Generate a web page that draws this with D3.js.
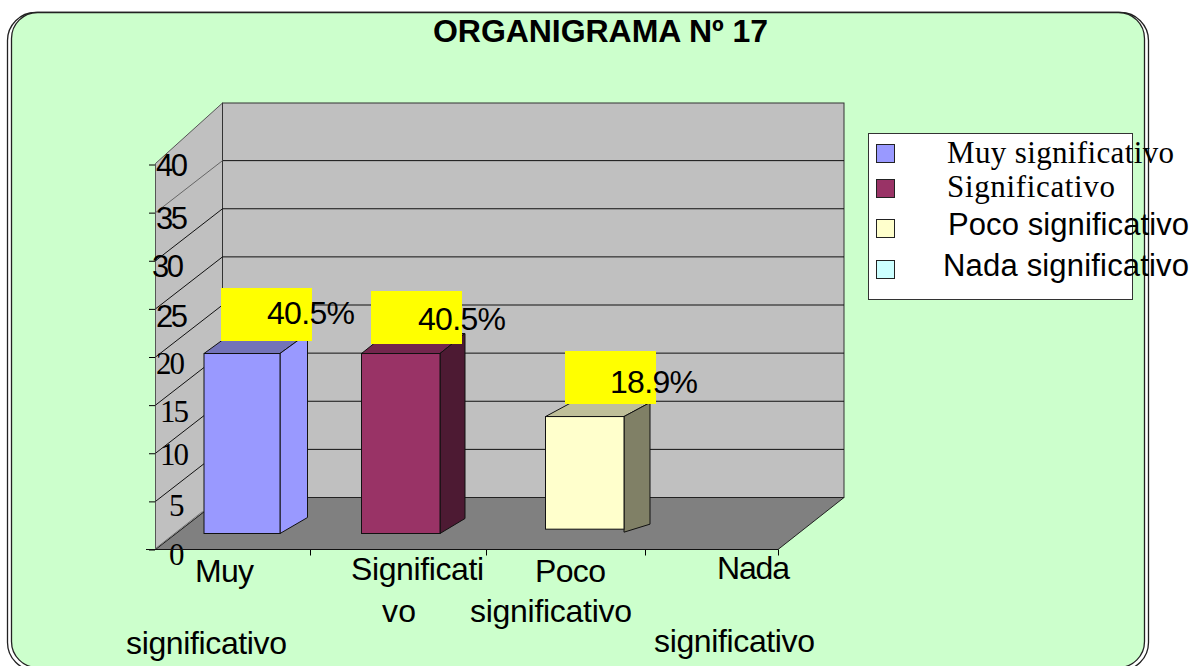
<!DOCTYPE html>
<html>
<head>
<meta charset="utf-8">
<title>ORGANIGRAMA Nº 17</title>
<script src="https://cdn.jsdelivr.net/npm/d3@7/dist/d3.min.js"></script>
<style>
    html, body { margin: 0; padding: 0; background: #ffffff; }
    svg { display: block; }
    text { fill: #000000; }
    .sans { font-family: "Liberation Sans", Arial, sans-serif; }
    .serif { font-family: "Liberation Serif", "Times New Roman", serif; }
</style>
</head>
<body>
<div id="container"></div>
<script>
    "use strict";

    // chart data
    var categories = ["Muy significativo", "Significativo", "Poco significativo", "Nada significativo"];
    var barHeights = [18.7, 18.7, 12.15, 0];
    var barBases = [0, 0, 0.45, 0];
    var percentLabels = ["40.5%", "40.5%", "18.9%", ""];
    var yTicks = [0, 5, 10, 15, 20, 25, 30, 35, 40];
    var colors = ["#9999ff", "#993366", "#ffffcc", "#ccffff"];
    var sideColors = ["#9999ff", "#4d1a33", "#808066", "#668080"];
    var topColors = ["#7373b8", "#73264d", "#bfbf99", "#99bfbf"];

    var width = 1192,
        height = 666;

    // the original was arranged by hand, so the layout is not regular
    var wall = { left: 155.5, right: 778, dx: 67, dy: 52, top: 103 };
    var barLeft = [204, 361.5, 545.5, 0],
        barWidth = [76, 78.5, 78.5, 0],
        sideDx = [27.5, 25, 26, 0],
        sideRise = [16, 15, 8, 0],
        sideDrop = [0, 0, 3, 0],
        topRise = [20, 20, 14, 0];

    var y = d3.scaleLinear().domain([0, 40]).range([549.5, 164.5]);
    var xTick = d3.scaleOrdinal().domain(categories).range([310, 486, 645, 778]);
    var xBar = d3.scaleOrdinal().domain(categories).range(barLeft);

    var svg = d3.select("#container").append("svg")
        .attr("width", width)
        .attr("height", height);

    function pts(list) {
        return list.map(function(p) { return p.join(","); }).join(" ");
    }

    // frame
    svg.append("rect")
        .attr("x", 7.5).attr("y", 12.5)
        .attr("width", 1141).attr("height", 658)
        .attr("rx", 28)
        .attr("fill", "#ffffff").attr("stroke", "#222222").attr("stroke-width", 1.3);
    svg.append("rect")
        .attr("x", 11.5).attr("y", 12.5)
        .attr("width", 1133).attr("height", 655)
        .attr("rx", 26)
        .attr("fill", "#ccffcc").attr("stroke", "#222222").attr("stroke-width", 1.3);

    svg.append("text")
        .attr("class", "sans")
        .attr("x", 433).attr("y", 41.5)
        .attr("textLength", 335)
        .style("font-size", "32px").style("font-weight", "bold")
        .text("ORGANIGRAMA Nº 17");

    // walls and floor
    var backRight = wall.right + wall.dx - 1;
    svg.append("polygon")
        .attr("points", pts([[wall.left, y(40) - 1], [wall.left + wall.dx, wall.top], [wall.left + wall.dx, y(0) - wall.dy], [wall.left, y(0)]]))
        .attr("fill", "#c0c0c0").attr("stroke", "#555555");
    svg.append("rect")
        .attr("x", wall.left + wall.dx).attr("y", wall.top)
        .attr("width", backRight - wall.left - wall.dx)
        .attr("height", y(0) - wall.dy - wall.top)
        .attr("fill", "#c0c0c0").attr("stroke", "#333333");
    svg.append("polygon")
        .attr("points", pts([[wall.left, y(0)], [wall.left + wall.dx, y(0) - wall.dy], [backRight, y(0) - wall.dy], [wall.right, y(0)]]))
        .attr("fill", "#808080").attr("stroke", "#222222");

    // gridlines on both walls
    var gridTicks = yTicks.slice(1, -1);
    svg.selectAll(".grid-back")
        .data(gridTicks)
        .enter().append("line")
            .attr("class", "grid-back")
            .attr("x1", wall.left + wall.dx)
            .attr("x2", backRight)
            .attr("y1", function(d) { return y(d) - wall.dy; })
            .attr("y2", function(d) { return y(d) - wall.dy; })
            .attr("stroke", "#111111");
    svg.selectAll(".grid-side")
        .data(gridTicks)
        .enter().append("line")
            .attr("class", "grid-side")
            .attr("x1", wall.left)
            .attr("x2", wall.left + wall.dx)
            .attr("y1", function(d) { return y(d); })
            .attr("y2", function(d) { return y(d) - wall.dy; })
            .attr("stroke", function(d) { return d === 35 ? "#666666" : "#111111"; });
    svg.append("line")
        .attr("x1", wall.left).attr("y1", y(0) - 1)
        .attr("x2", wall.left + 47).attr("y2", y(0) - 38)
        .attr("stroke", "#777777");

    // axes
    var yAxis = svg.append("g")
        .attr("transform", "translate(" + (wall.left - 0.5) + ",0)")
        .call(d3.axisLeft(y).tickValues(yTicks).tickSize(6));
    yAxis.select(".domain").remove();

    var yLabelX = { 40: 156, 35: 156, 30: 152, 25: 156, 20: 156, 15: 160, 10: 160, 5: 169, 0: 169 },
        yLabelBase = { 40: 176, 35: 229, 30: 277, 25: 327, 20: 374, 15: 421.5, 10: 465, 5: 515.5, 0: 565 };

    // labels were moved by hand in the original, so undo the tick's own translate
    yAxis.selectAll(".tick text")
        .attr("class", function(d) { return d >= 25 ? "sans" : "serif"; })
        .attr("text-anchor", "start")
        .attr("dy", null)
        .attr("x", 0).attr("y", 0)
        .attr("textLength", function(d) { return d === 5 || d === 0 ? 15 : (d >= 25 ? 32 : 29); })
        .attr("transform", function(d) {
            return "translate(" + (yLabelX[d] - wall.left + 0.5) + "," + (yLabelBase[d] - y(d) - 0.5) + ")";
        })
        .style("font-size", "31px");

    var xAxis = svg.append("g")
        .attr("transform", "translate(0," + y(0) + ")")
        .call(d3.axisBottom(xTick).tickSize(6).tickFormat(""));
    xAxis.select(".domain").remove();
    svg.append("line")
        .attr("x1", 146).attr("x2", wall.right)
        .attr("y1", y(0)).attr("y2", y(0))
        .attr("stroke", "#111111");

    // bars
    var barData = categories.map(function(name, i) {
        return { name: name, i: i, base: barBases[i], value: barHeights[i] };
    }).filter(function(d) { return d.value > 0; });

    function barY(v) {
        return y(v) - 16;
    }

    var bars = svg.selectAll(".bar")
        .data(barData)
        .enter().append("g")
            .attr("class", "bar");

    bars.append("polygon")
        .attr("points", function(d) {
            var x0 = xBar(d.name), x1 = x0 + barWidth[d.i];
            return pts([[x0, barY(d.value)], [x1, barY(d.value)], [x1 + sideDx[d.i], barY(d.value) - topRise[d.i]], [x0 + sideDx[d.i], barY(d.value) - topRise[d.i]]]);
        })
        .attr("fill", function(d) { return topColors[d.i]; })
        .attr("stroke", "#111111");

    bars.append("polygon")
        .attr("points", function(d) {
            var x1 = xBar(d.name) + barWidth[d.i];
            var b = barY(d.base) + sideDrop[d.i];
            return pts([[x1, barY(d.value)], [x1 + sideDx[d.i], barY(d.value) - topRise[d.i]], [x1 + sideDx[d.i], b - sideRise[d.i]], [x1, b]]);
        })
        .attr("fill", function(d) { return sideColors[d.i]; })
        .attr("stroke", "#111111");

    bars.append("rect")
        .attr("x", function(d) { return xBar(d.name); })
        .attr("y", function(d) { return barY(d.value); })
        .attr("width", function(d) { return barWidth[d.i]; })
        .attr("height", function(d) { return barY(d.base) - barY(d.value); })
        .attr("fill", function(d) { return colors[d.i]; })
        .attr("stroke", "#111111");

    // yellow value labels
    var labelBoxX = [221, 371, 565],
        labelBoxY = [288, 291, 351],
        labelTextX = [267, 418, 610],
        labelTextY = [324, 330, 392.5];

    svg.selectAll(".label-box")
        .data(barData)
        .enter().append("rect")
            .attr("class", "label-box")
            .attr("x", function(d) { return labelBoxX[d.i]; })
            .attr("y", function(d) { return labelBoxY[d.i]; })
            .attr("width", 91)
            .attr("height", 53)
            .attr("fill", "#ffff00");

    svg.selectAll(".label-text")
        .data(barData)
        .enter().append("text")
            .attr("class", "label-text sans")
            .attr("x", function(d) { return labelTextX[d.i]; })
            .attr("y", function(d) { return labelTextY[d.i]; })
            .attr("textLength", 88)
            .style("font-size", "32px")
            .text(function(d) { return percentLabels[d.i]; });

    // category labels, wrapped the way the original wraps them
    var categoryLines = [
        { text: "Muy", x: 195, y: 581.5, len: 59 },
        { text: "significativo", x: 126, y: 654, len: 161 },
        { text: "Significati", x: 351, y: 580, len: 133 },
        { text: "vo", x: 382, y: 622, len: 34 },
        { text: "Poco", x: 535, y: 581.5, len: 71 },
        { text: "significativo", x: 470, y: 622, len: 162 },
        { text: "Nada", x: 717, y: 579, len: 73 },
        { text: "significativo", x: 654, y: 652, len: 161 }
    ];

    svg.selectAll(".cat-line")
        .data(categoryLines)
        .enter().append("text")
            .attr("class", "cat-line sans")
            .attr("x", function(d) { return d.x; })
            .attr("y", function(d) { return d.y; })
            .attr("textLength", function(d) { return d.len; })
            .style("font-size", "32px")
            .text(function(d) { return d.text; });

    // legend
    var legendSwatchY = [144, 179, 219, 260],
        legendTextX = [947, 947, 948, 943],
        legendTextY = [163, 197, 235, 276],
        legendTextLen = [227, 168, 241, 246],
        legendFont = ["serif", "serif", "sans", "sans"],
        legendSize = [31, 31, 31, 31];

    svg.append("rect")
        .attr("x", 868.5).attr("y", 133.5)
        .attr("width", 264).attr("height", 166)
        .attr("fill", "#ffffff").attr("stroke", "#333333");

    var legend = svg.selectAll(".legend")
        .data(categories)
        .enter().append("g")
            .attr("class", "legend");

    legend.append("rect")
        .attr("x", 876.5)
        .attr("y", function(d, i) { return legendSwatchY[i] + 0.5; })
        .attr("width", 18)
        .attr("height", 18)
        .attr("fill", function(d, i) { return colors[i]; })
        .attr("stroke", "#222222");

    legend.append("text")
        .attr("class", function(d, i) { return legendFont[i]; })
        .attr("x", function(d, i) { return legendTextX[i]; })
        .attr("y", function(d, i) { return legendTextY[i]; })
        .attr("textLength", function(d, i) { return legendTextLen[i]; })
        .style("font-size", function(d, i) { return legendSize[i] + "px"; })
        .text(function(d) { return d; });
</script>
</body>
</html>
